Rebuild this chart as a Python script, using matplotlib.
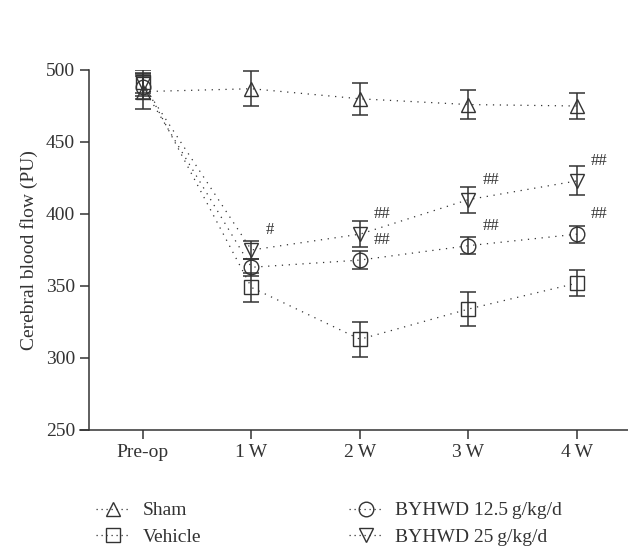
import numpy as np
import matplotlib
matplotlib.use("Agg")
import matplotlib.pyplot as plt
from matplotlib.lines import Line2D

plt.rcParams['font.family'] = ['Liberation Serif', 'DejaVu Serif']

groups = ['Pre-op', '1\u2009W', '2\u2009W', '3\u2009W', '4\u2009W']

sham = [485, 487, 480, 476, 475]
sham_err = [12, 12, 11, 10, 9]
vehicle = [492, 349, 313, 334, 352]
vehicle_err = [8, 10, 12, 12, 9]
byhwd_low = [488, 363, 368, 378, 386]
byhwd_low_err = [8, 6, 6, 6, 6]
byhwd_high = [490, 375, 386, 410, 423]
byhwd_high_err = [8, 6, 9, 9, 10]

labels = ['Sham', 'Vehicle', 'BYHWD 12.5\u2009g/kg/d', 'BYHWD 25\u2009g/kg/d']
markers = ['^', 's', 'o', 'v']

# significance marks: (series index, group index, text)
sig = [(3, 1, '#'), (3, 2, '##'), (2, 2, '##'), (3, 3, '##'), (2, 3, '##'),
       (3, 4, '##'), (2, 4, '##')]

ink = '#333333'
fig = plt.figure(figsize=(6.28, 5.5), dpi=100)
ax = fig.add_axes([80 / 628, 120 / 550, 548 / 628, 360 / 550])

x = np.arange(len(groups))
series = [(sham, sham_err), (vehicle, vehicle_err),
          (byhwd_low, byhwd_low_err), (byhwd_high, byhwd_high_err)]
dot = (0, (1, 4.5))
for (vals, err), m in zip(series, markers):
    ax.errorbar(x, vals, yerr=err, fmt='none', ecolor=ink, elinewidth=1.1,
                capsize=5.5, capthick=1.1)
    ax.plot(x, vals, linestyle=dot, color=ink, linewidth=0.9)
    ax.plot(x, vals, linestyle='none', marker=m, markersize=10.5,
            markerfacecolor='none', markeredgecolor=ink, markeredgewidth=1.0)

for si, gi, t in sig:
    ax.annotate(t, (x[gi], series[si][0][gi]), xytext=(14, 12),
                textcoords='offset pixels', fontsize=12, color=ink,
                ha='left', va='bottom')

ax.set_ylim(250, 500)
ax.set_xlim(-0.58, 4.47)
ax.spines['left'].set_position(('data', -0.498))
for s in ['top', 'right']:
    ax.spines[s].set_visible(False)
for s in ['left', 'bottom']:
    ax.spines[s].set_color(ink)
    ax.spines[s].set_linewidth(1.1)
ax.set_yticks([250, 300, 350, 400, 450, 500])
ax.set_xticks(x)
ax.set_xticklabels(groups)
ax.tick_params(colors=ink, labelsize=14, length=6.5, width=1.1)
ax.set_ylabel('Cerebral blood flow (PU)', fontsize=14, color=ink)
ax.yaxis.set_label_coords(-0.077, 0.5)

handles = [Line2D([], [], linestyle=(0, (1, 3)), color=ink, linewidth=0.9,
                  marker=m, markersize=10.5, markerfacecolor='none',
                  markeredgecolor=ink, markeredgewidth=1.0) for m in markers]
fig.legend(handles, labels, ncol=2, loc='upper left',
           bbox_to_anchor=(86 / 628, 1 - 492 / 550), frameon=False,
           fontsize=14, handlelength=1.8, handletextpad=0.6,
           columnspacing=7.6, labelspacing=0.45, borderpad=0,
           labelcolor=ink)

fig.savefig('out.png', dpi=100)
